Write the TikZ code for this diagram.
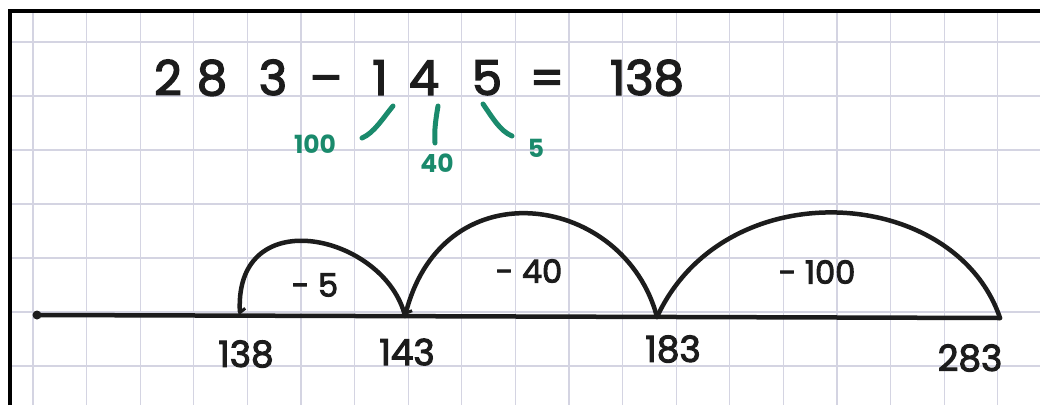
\documentclass[tikz,border=0pt]{standalone}
\usepackage{fontspec}
\setmainfont{Poppins}
\newfontfamily\hand{Poppins}[FakeBold=3]
\usetikzlibrary{arrows.meta}
\definecolor{gridc}{RGB}{212,212,226}
\definecolor{ink}{RGB}{28,28,28}
\definecolor{greenink}{RGB}{26,138,108}
\tikzset{
  gridline/.style={draw=gridc, line width=1.3pt},
  frameline/.style={draw=black, line width=4pt, line join=miter},
  numline/.style={draw=ink, line width=4.5pt, line cap=round},
  jump/.style={draw=ink, line width=4.5pt, line cap=round},
  jumptip/.style={-{Straight Barb[left,length=4pt,width=11pt,line width=3pt]}},
  eqchar/.style={text=ink, anchor=base, inner sep=0pt, font=\hand\fontsize{48}{50}\selectfont},
  numlab/.style={text=ink, inner sep=0pt, font=\hand\fontsize{36}{38}\selectfont},
  jumplab/.style={text=ink, inner sep=0pt, font=\hand\fontsize{32}{34}\selectfont},
  glab/.style={text=greenink, inner sep=0pt, font=\bfseries\fontsize{25}{27}\selectfont},
  gstroke/.style={draw=greenink, line width=5pt, line cap=round}
}
\begin{document}
\begin{tikzpicture}[x=1pt,y=-1pt]
\useasboundingbox (0,0) rectangle (1040,405);
\fill[white] (0,0) rectangle (1040,405);
% grid paper
\foreach \i in {0,...,18} \draw[gridline] ({33+53.6*\i},11) -- ({33+53.6*\i},405);
\foreach \j in {0,...,6} \draw[gridline] (10,{42+54*\j}) -- (1040,{42+54*\j});
% frame
\draw[frameline] (10,405) -- (10,11) -- (1040,11);
% equation
\node[eqchar] (d2) at (168,95) {2};
\node[eqchar] (d8) at (212,95) {8};
\node[eqchar] (d3) at (273,95) {3};
\node[eqchar] (minus) at (326,95) {–};
\node[eqchar] (d1) at (380,95) {1};
\node[eqchar] (d4) at (424,95) {4};
\node[eqchar] (d5) at (487,95) {5};
\node[eqchar] (eq) at (547,95) {=};
\node[eqchar] (res) at (647,95) {138};
% partition (green)
\node[glab] (g100) at (315,144) {100};
\node[glab] (g40) at (437,163) {40};
\node[glab] (g5) at (536,148) {5};
\coordinate (s1a) at (393,106); \coordinate (s1b) at (362,138);
\coordinate (s4a) at (438,106); \coordinate (s4b) at (435,143);
\coordinate (s5a) at (483,104); \coordinate (s5b) at (512,136);
\draw[gstroke] (s1a) .. controls (383,118) and (374,133) .. (s1b);
\draw[gstroke] (s4a) .. controls (436,118) and (434,130) .. (s4b);
\draw[gstroke] (s5a) .. controls (492,117) and (500,131) .. (s5b);
% number line
\coordinate (start) at (37,315);
\coordinate (p138) at (240,315.5);
\coordinate (p143) at (405,316);
\coordinate (p183) at (657,317);
\coordinate (p283) at (1000,318);
\draw[numline] (start) -- (p283);
\fill[ink] (start) circle (4.5);
% labels on the line
\node[numlab] (l138) at (246,354) {138};
\node[numlab] (l143) at (407,352) {143};
\node[numlab] (l183) at (673,349) {183};
\node[numlab] (l283) at (970,358) {283};
% jumps
\draw[jump,jumptip] (p143) .. controls (385,235) and (235,200) .. (p138);
\draw[jump,jumptip] (p183) .. controls (625,195) and (445,165) .. (p143);
\draw[jump] (p283) .. controls (955,185) and (725,170) .. (p183);
\node[jumplab] (j5) at (315,285) {- 5};
\node[jumplab] (j40) at (529,271) {- 40};
\node[jumplab] (j100) at (817,272) {- 100};
\end{tikzpicture}
\end{document}
